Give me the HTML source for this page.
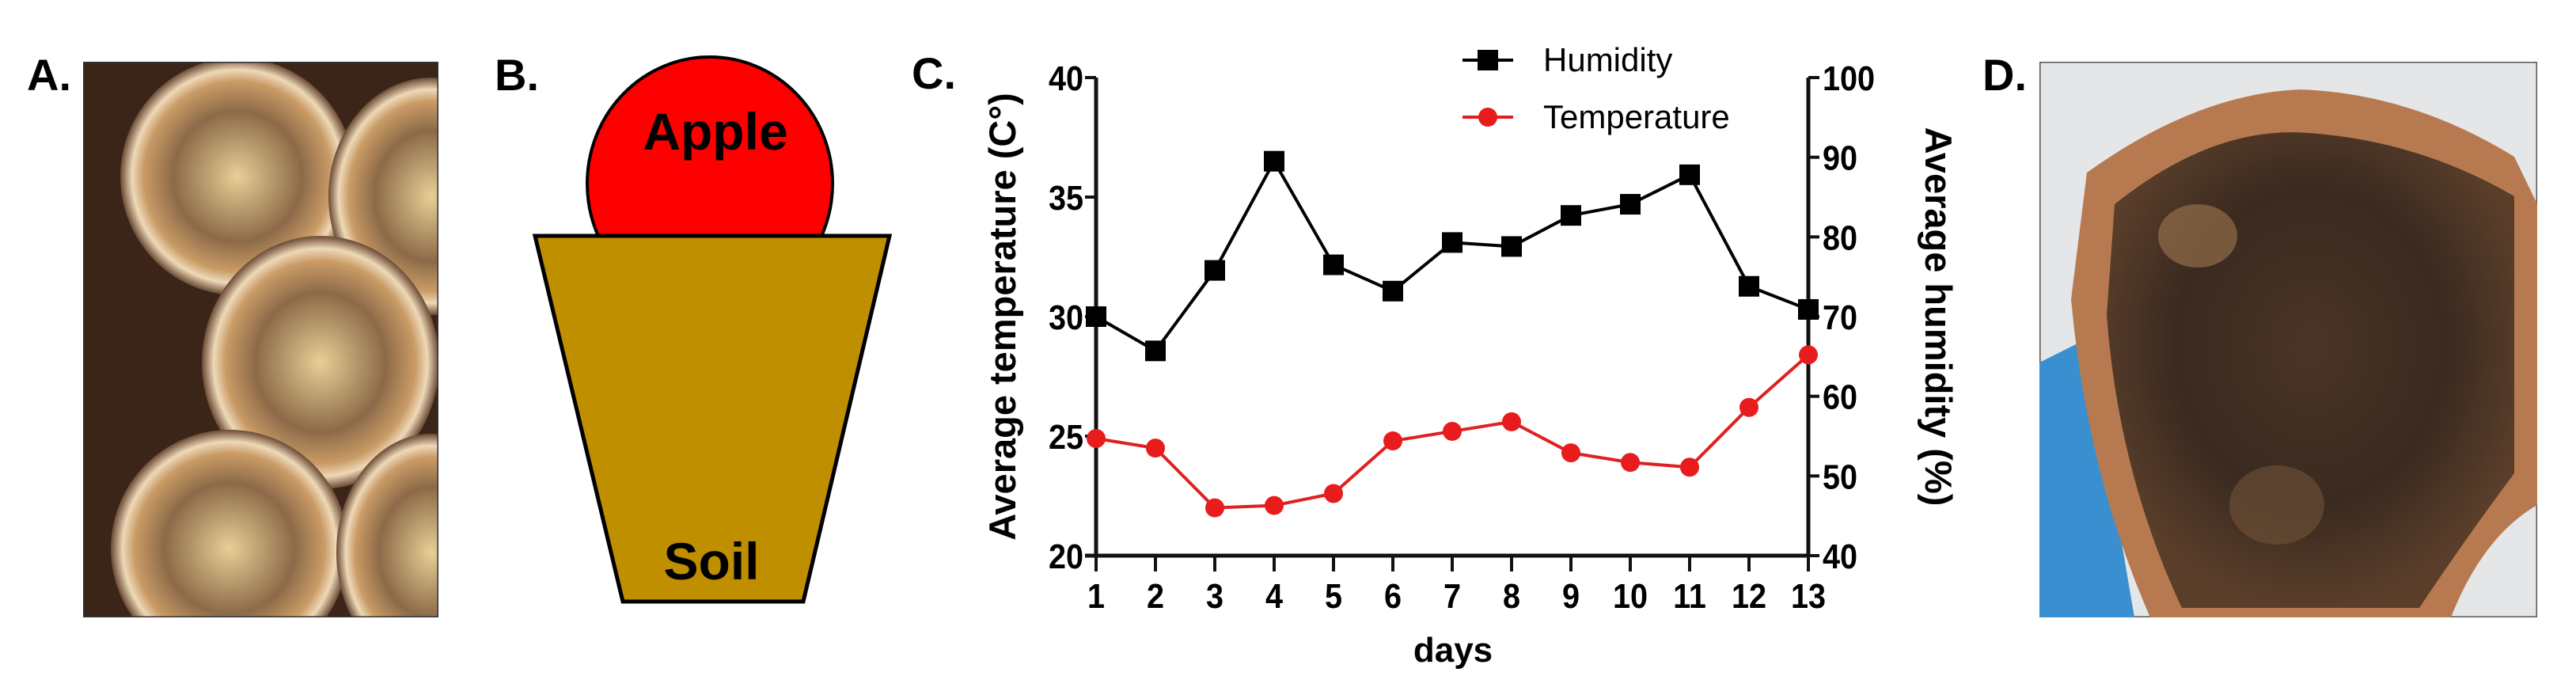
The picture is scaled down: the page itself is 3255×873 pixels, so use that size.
<!DOCTYPE html>
<html><head><meta charset="utf-8"><style>
html,body{margin:0;padding:0;background:#fff;}
body{width:3255px;height:873px;overflow:hidden;position:relative;font-family:"Liberation Sans",sans-serif;}
.lbl{position:absolute;font-weight:bold;font-size:56px;color:#000;}
</style></head><body>
<div class="lbl" style="left:34px;top:62px;">A.</div>
<svg style="position:absolute;left:105px;top:78px" width="449" height="702">
<defs><radialGradient id="ring" cx="50%" cy="50%" r="50%"><stop offset="0" stop-color="#e8cf96"/><stop offset="0.55" stop-color="#8c6a48"/><stop offset="0.8" stop-color="#c99b66"/><stop offset="0.9" stop-color="#eed9b8"/><stop offset="1" stop-color="#6b4a34"/></radialGradient></defs>
<rect width="449" height="702" fill="#3b2519"/>
<ellipse cx="195" cy="145" rx="148" ry="150" fill="url(#ring)"/>
<ellipse cx="440" cy="170" rx="130" ry="150" fill="url(#ring)"/>
<ellipse cx="300" cy="380" rx="150" ry="160" fill="url(#ring)"/>
<ellipse cx="185" cy="615" rx="150" ry="150" fill="url(#ring)"/>
<ellipse cx="440" cy="620" rx="120" ry="150" fill="url(#ring)"/>
<rect width="449" height="702" fill="none" stroke="#333" stroke-width="3"/>
</svg>
<div class="lbl" style="left:625px;top:62px;">B.</div>
<svg style="position:absolute;left:600px;top:50px" width="560" height="740">
<ellipse cx="297" cy="182" rx="155" ry="160" fill="#ff0000" stroke="#000" stroke-width="4"/>
<polygon points="76,248 524,248 415,710 187,710" fill="#bf8f00" stroke="#000" stroke-width="5"/>
<text x="304" y="139" text-anchor="middle" font-family="Liberation Sans" font-weight="bold" font-size="66">Apple</text>
<text x="299" y="682" text-anchor="middle" font-family="Liberation Sans" font-weight="bold" font-size="66">Soil</text>
</svg>
<div class="lbl" style="left:1152px;top:60px;">C.</div>
<svg id="chart" style="position:absolute;left:0;top:0" width="3255" height="873"></svg>
<div class="lbl" style="left:2505px;top:62px;">D.</div>
<svg style="position:absolute;left:2577px;top:78px" width="629" height="702">
<defs><radialGradient id="soil" cx="50%" cy="45%" r="55%"><stop offset="0" stop-color="#4a3526"/><stop offset="0.6" stop-color="#3a2a20"/><stop offset="1" stop-color="#5a3e2a"/></radialGradient></defs>
<rect width="629" height="702" fill="#e4e6e8" stroke="#555" stroke-width="3"/>
<polygon points="0,380 60,350 120,702 0,702" fill="#3a8fd0"/>
<path d="M60,140 Q200,40 330,35 Q470,40 600,120 L629,180 L629,560 Q560,600 520,702 L140,702 Q60,520 40,300 Z" fill="#b77a50"/>
<path d="M95,180 Q220,80 340,90 Q480,100 600,170 L600,520 Q540,600 480,690 L180,690 Q100,520 85,320 Z" fill="url(#soil)"/>
<ellipse cx="200" cy="220" rx="50" ry="40" fill="#a07850" opacity="0.6"/>
<ellipse cx="300" cy="560" rx="60" ry="50" fill="#7a5a3c" opacity="0.5"/>
</svg>
<script>
const days=[1,2,3,4,5,6,7,8,9,10,11,12,13];
const humidity=[70,65.7,75.8,89.5,76.5,73.2,79.3,78.8,82.7,84.1,87.8,73.8,70.9];
const temperature=[24.9,24.5,22.0,22.1,22.6,24.8,25.2,25.6,24.3,23.9,23.7,26.2,28.4];
const leftTicks=[20,25,30,35,40];
const rightTicks=[40,50,60,70,80,90,100];
const NS="http://www.w3.org/2000/svg";
const svg=document.getElementById('chart');
const X0=1385,X1=2285,YT=98,YB=702;
const xs=d=>X0+(d-1)*(X1-X0)/12;
const yT=v=>YB-(v-20)*(YB-YT)/20;
const yH=v=>YB-(v-40)*(YB-YT)/60;
function mk(tag,attrs,name){const e=document.createElementNS(NS,tag);for(const k in attrs)e.setAttribute(k,attrs[k]);


svg.appendChild(e);return e;}
function txt(x,y,s,anchor,size,name,extra){const t=mk('text',Object.assign({x:x,y:y,'text-anchor':anchor,'font-family':'Liberation Sans','font-size':size,'font-weight':'bold'},extra||{}),name);t.textContent=s;return t;}
mk('line',{x1:X0,y1:YT,x2:X0,y2:YB+2,stroke:'#111','stroke-width':5},'left-axis');
mk('line',{x1:X1,y1:YT,x2:X1,y2:YB+2,stroke:'#111','stroke-width':5},'right-axis');
mk('line',{x1:X0-14,y1:YB,x2:X1,y2:YB,stroke:'#111','stroke-width':5},'x-axis');
leftTicks.forEach(v=>{mk('line',{x1:X0-14,y1:yT(v),x2:X0,y2:yT(v),stroke:'#111','stroke-width':4},'left-tick');
txt(0,0,String(v),'end',44,'left-tick-label',{transform:'translate('+(X0-16)+','+(yT(v)+16)+') scale(0.9,1)'});});
rightTicks.forEach(v=>{mk('line',{x1:X1,y1:yH(v),x2:X1+14,y2:yH(v),stroke:'#111','stroke-width':4},'right-tick');
txt(0,0,String(v),'start',44,'right-tick-label',{transform:'translate('+(X1+18)+','+(yH(v)+16)+') scale(0.9,1)'});});
days.forEach(d=>{mk('line',{x1:xs(d),y1:YB,x2:xs(d),y2:YB+20,stroke:'#111','stroke-width':4},'x-tick');
txt(0,0,String(d),'middle',44,'x-tick-label',{transform:'translate('+xs(d)+','+(YB+66)+') scale(0.9,1)'});});
txt(1836,836,'days','middle',44,'x-axis-title');
txt(0,0,'Average temperature (C°)','middle',47,'left-axis-title',{transform:'translate(1283,400) rotate(-90)'});
txt(0,0,'Average humidity (%)','middle',47,'right-axis-title',{transform:'translate(2433,400) rotate(90)'});
mk('polyline',{points:days.map((d,i)=>xs(d)+','+yH(humidity[i])).join(' '),fill:'none',stroke:'#000','stroke-width':4},'humidity-line');
days.forEach((d,i)=>mk('rect',{x:xs(d)-13,y:yH(humidity[i])-13,width:26,height:26,fill:'#000'},'humidity-point'));
mk('polyline',{points:days.map((d,i)=>xs(d)+','+yT(temperature[i])).join(' '),fill:'none',stroke:'#e02020','stroke-width':4},'temperature-line');
days.forEach((d,i)=>mk('circle',{cx:xs(d),cy:yT(temperature[i]),r:12,fill:'#e81c1c'},'temperature-point'));
mk('line',{x1:1848,y1:76,x2:1912,y2:76,stroke:'#000','stroke-width':4},'legend-humidity-line');
mk('rect',{x:1867,y:63,width:26,height:26,fill:'#000'},'legend-humidity-marker');
txt(1950,90,'Humidity','start',42,'legend-humidity-label',{'font-weight':'normal'});
mk('line',{x1:1848,y1:148,x2:1912,y2:148,stroke:'#e02020','stroke-width':4},'legend-temperature-line');
mk('circle',{cx:1880,cy:148,r:12,fill:'#e81c1c'},'legend-temperature-marker');
txt(1950,162,'Temperature','start',42,'legend-temperature-label',{'font-weight':'normal'});
</script>
</body></html>
